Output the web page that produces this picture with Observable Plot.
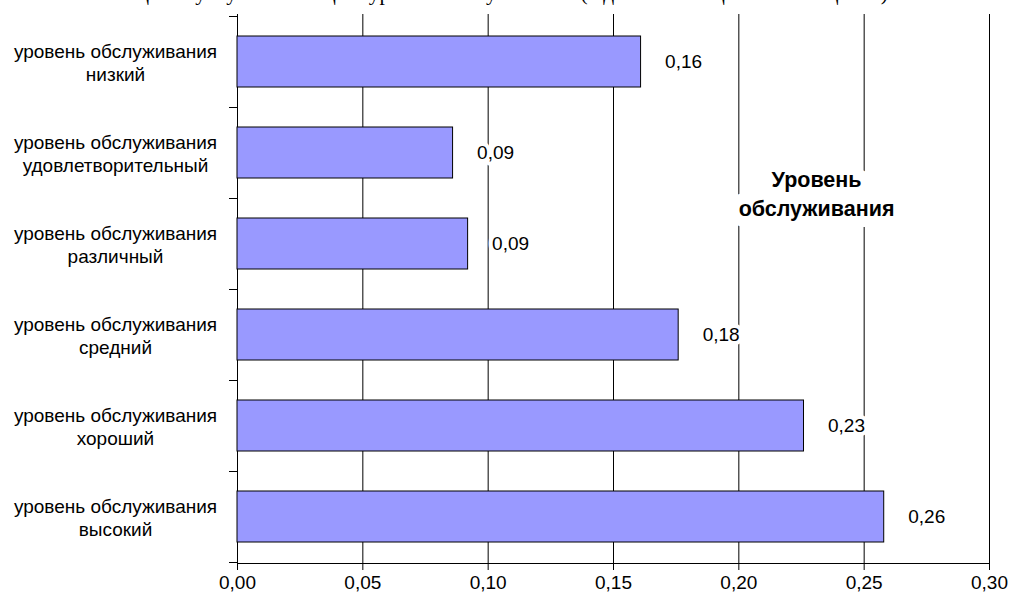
<!DOCTYPE html>
<html>
<head>
<meta charset="utf-8">
<script src="https://cdn.jsdelivr.net/npm/d3@7"></script>
<script src="https://cdn.jsdelivr.net/npm/@observablehq/plot@0.6"></script>
<style>
  body { margin: 0; background: #fff; width: 1010px; height: 602px; overflow: hidden; }
  #title {
    font-family: "Liberation Serif", "Times New Roman", serif;
    font-size: 21.5px; line-height: 20px; height: 20px;
    margin-top: -17px; text-align: center; white-space: nowrap;
  }
  #chart { margin-top: 3px; }
</style>
</head>
<body>
<div id="title">Оценка услуг гостиниц по уровню обслуживания (в долях от общего числа оценок)</div>
<div id="chart"></div>
<script>
// Service level categories (top to bottom) and their shares
const prefix = "уровень обслуживания";
const levels = ["низкий", "удовлетворительный", "различный", "средний", "хороший", "высокий"];
const shares = [0.161, 0.086, 0.092, 0.176, 0.226, 0.258];
const xTicks = [0, 0.05, 0.10, 0.15, 0.20, 0.25, 0.30];
const boxTitle = "Уровень\nобслуживания";

const categories = levels.map(l => `${prefix}\n${l}`);
const data = categories.map((c, i) => ({category: c, share: shares[i]}));
const fmt = v => v.toFixed(2).replace(".", ",");
const PAD = 0.44;

// Short ticks on the left axis at the boundaries between categories
function categoryTicks(index, scales, values, dims) {
  const y = scales.y;
  const step = y(categories[1]) - y(categories[0]);
  const gap = step * PAD / 2;
  const ys = categories.map(c => y(c) - gap);
  ys.push(y(categories[categories.length - 1]) + step - gap);
  const g = d3.create("svg:g").attr("stroke", "black");
  const x0 = dims.marginLeft;
  for (const v of ys) {
    const yy = Math.round(v) + 0.5;
    g.append("line").attr("x1", x0 - 8).attr("x2", x0).attr("y1", yy).attr("y2", yy);
  }
  return g.node();
}

const chart = Plot.plot({
  width: 1010,
  height: 596,
  marginTop: 8,
  marginRight: 21,
  marginBottom: 39,
  marginLeft: 237,
  style: {fontFamily: '"Liberation Sans", Arial, sans-serif', fontSize: "19px", color: "black", background: "white", overflow: "visible"},
  x: {domain: [0, 0.3], ticks: xTicks, tickFormat: fmt, tickSize: 7, tickPadding: 5, line: true, label: null},
  y: {domain: categories, paddingInner: PAD, paddingOuter: PAD / 2, label: null},
  marks: [
    Plot.ruleX(xTicks, {stroke: "black", strokeWidth: 1}),
    Plot.axisY({tickSize: 0, tickPadding: 122, textAnchor: "middle", lineHeight: 1.22, label: null, fontSize: 19}),
    Plot.barX(data, {x: "share", y: "category", fill: "#9999ff", stroke: "black", strokeWidth: 1}),
    Plot.text(data, {
      x: "share", y: "category", text: d => fmt(d.share),
      textAnchor: "start", dx: 24, fontSize: 19,
      fill: "black", stroke: "white", strokeWidth: 8, paintOrder: "stroke", strokeLinejoin: "round"
    }),
    Plot.text([boxTitle], {
      x: [0.231], frameAnchor: "top", dy: 178, lineAnchor: "middle",
      textAnchor: "middle", lineHeight: 1.35, fontSize: 21.5, fontWeight: "bold",
      fill: "black", stroke: "white", strokeWidth: 22, paintOrder: "stroke", strokeLinejoin: "round"
    }),
    categoryTicks
  ]
});

document.getElementById("chart").appendChild(chart);
</script>
</body>
</html>
